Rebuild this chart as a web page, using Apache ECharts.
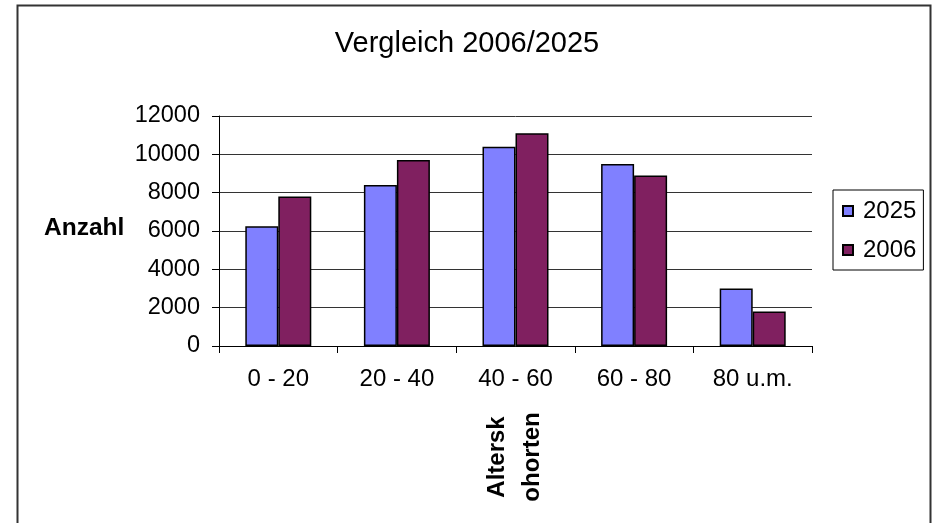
<!DOCTYPE html>
<html>
<head>
<meta charset="utf-8">
<script src="https://cdn.jsdelivr.net/npm/echarts@6/dist/echarts.min.js"></script>
<style>
  html, body { margin: 0; padding: 0; background: #fff; }
  #chart { width: 934px; height: 523px; }
</style>
</head>
<body>
<div id="chart"></div>
<script>
// Altersgruppen und Werte
const categories = ["0 - 20", "20 - 40", "40 - 60", "60 - 80", "80 u.m."];
const values2025 = [6250, 8400, 10400, 9500, 3000];
const values2006 = [7800, 9700, 11100, 8900, 1800];
const yTicks = [0, 2000, 4000, 6000, 8000, 10000, 12000];

const font = "Liberation Sans, Arial, sans-serif";

const chart = echarts.init(document.getElementById("chart"), null, { renderer: "canvas" });

const barBorder = { borderColor: "#000", borderWidth: 1.5 };

chart.setOption({
  animation: false,
  textStyle: { fontFamily: font, color: "#000" },
  title: {
    text: "Vergleich 2006/2025",
    left: "center",
    top: 24,
    textStyle: { fontFamily: font, fontSize: 29, fontWeight: "normal", color: "#000" },
  },
  grid: { left: 219, right: 122, top: 116, bottom: 177 },
  legend: {
    orient: "vertical",
    left: 833,
    top: 190,
    padding: [9, 7, 8, 9],
    itemGap: 15,
    itemWidth: 10,
    itemHeight: 10,
    icon: "rect",
    borderColor: "#000",
    borderWidth: 1,
    textStyle: { fontFamily: font, fontSize: 24, color: "#000", padding: [0, 0, 0, 5] },
    data: ["2025", "2006"],
  },
  xAxis: {
    type: "category",
    data: categories,
    axisLine: { lineStyle: { color: "#000", width: 1 } },
    axisTick: { show: true, length: 7, lineStyle: { color: "#000" } },
    axisLabel: { fontSize: 24, color: "#000", margin: 21, fontFamily: font },
    splitLine: { show: false },
  },
  yAxis: {
    type: "value",
    min: yTicks[0],
    max: yTicks[yTicks.length - 1],
    interval: 2000,
    axisLine: { show: true, lineStyle: { color: "#000", width: 1 } },
    axisTick: { show: true, length: 7, lineStyle: { color: "#000" } },
    axisLabel: {
      fontSize: 23.5,
      color: "#000",
      margin: 19,
      fontFamily: font,
      formatter: (v) => String(v),
    },
    splitLine: { show: true, lineStyle: { color: "#333", width: 1 } },
  },
  series: [
    {
      name: "2025",
      type: "bar",
      data: values2025,
      barWidth: 33,
      barGap: "0%",
      itemStyle: { color: "#8080FF", ...barBorder },
    },
    {
      name: "2006",
      type: "bar",
      data: values2006,
      barWidth: 33,
      itemStyle: { color: "#802060", ...barBorder },
    },
  ],
  graphic: [
    // äußerer Rahmen
    {
      type: "rect",
      shape: { x: 17.5, y: 5.5, width: 913, height: 540 },
      style: { fill: "none", stroke: "#333", lineWidth: 2 },
      silent: true,
    },
    {
      type: "text",
      left: 44,
      top: 216,
      style: { text: "Anzahl", fontFamily: font, fontSize: 24.5, fontWeight: "bold", fill: "#000" },
    },
    {
      type: "text",
      x: 515,
      y: 457,
      rotation: Math.PI / 2,
      style: {
        text: "Altersk\nohorten",
        fontFamily: font,
        fontSize: 24,
        fontWeight: "bold",
        fill: "#000",
        align: "center",
        verticalAlign: "middle",
        lineHeight: 35,
      },
    },
  ],
});
</script>
</body>
</html>
